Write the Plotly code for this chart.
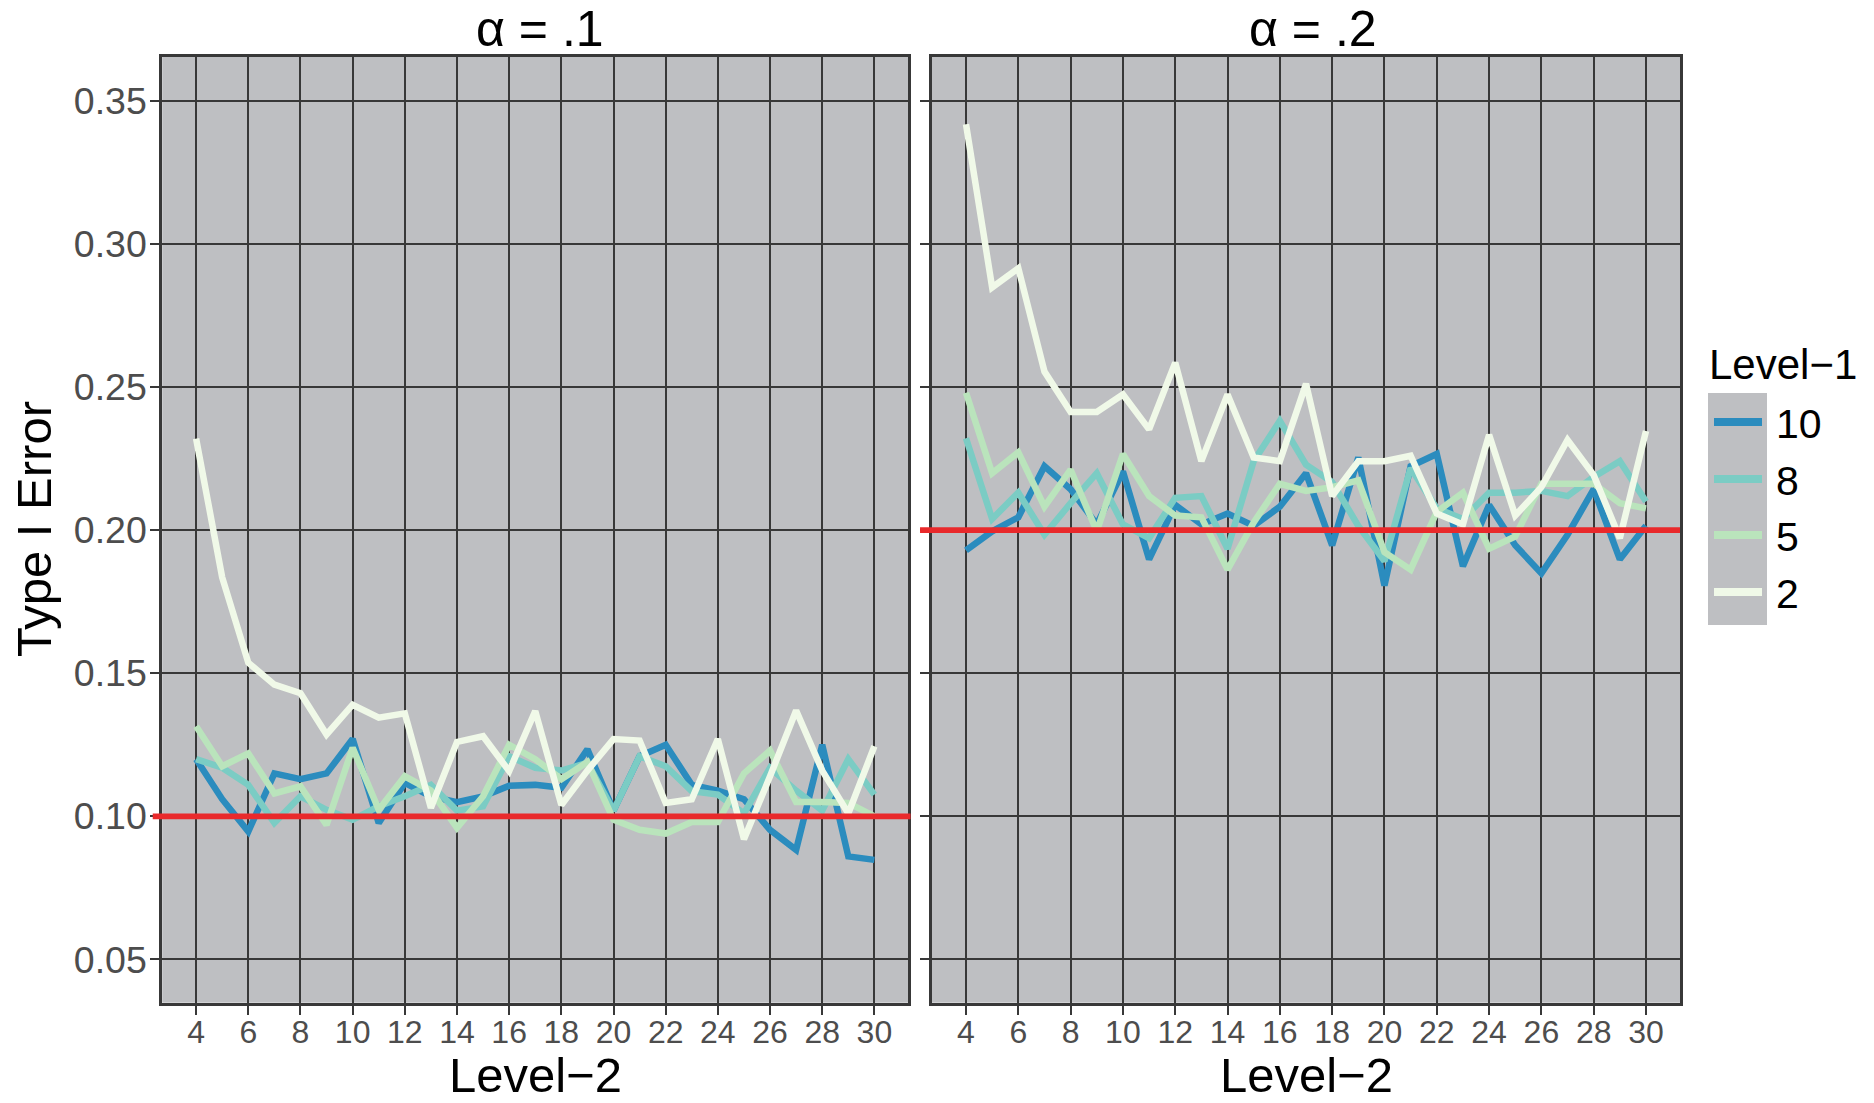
import plotly.graph_objects as go

level2 = list(range(4, 31))
level1_labels = ["10", "8", "5", "2"]
colors = ["#2b8cbe", "#7bccc4", "#bae4bc", "#f0f9e8"]

# alpha = .1 panel
a1_10 = [0.120, 0.106, 0.0947, 0.115, 0.113, 0.115, 0.127, 0.0977, 0.1117, 0.107, 0.105, 0.107, 0.1107, 0.111,
         0.110, 0.1234, 0.102, 0.121, 0.125, 0.111, 0.109, 0.106, 0.0953, 0.0883, 0.125, 0.086, 0.0848]
a1_8 = [0.120, 0.117, 0.111, 0.0977, 0.107, 0.1023, 0.0988, 0.1035, 0.107, 0.111, 0.102, 0.1035, 0.121, 0.117,
        0.116, 0.1187, 0.102, 0.121, 0.1175, 0.1088, 0.1076, 0.101, 0.117, 0.109, 0.102, 0.120, 0.1076]
a1_5 = [0.1315, 0.1175, 0.122, 0.108, 0.1105, 0.097, 0.124, 0.1023, 0.114, 0.109, 0.096, 0.107, 0.125, 0.120,
        0.113, 0.119, 0.0988, 0.0953, 0.094, 0.098, 0.098, 0.115, 0.123, 0.105, 0.105, 0.1047, 0.100]
a1_2 = [0.232, 0.1835, 0.1537, 0.146, 0.143, 0.1286, 0.139, 0.1345, 0.136, 0.103, 0.126, 0.128, 0.1158, 0.1368,
        0.104, 0.116, 0.127, 0.1265, 0.1047, 0.106, 0.127, 0.092, 0.114, 0.137, 0.116, 0.101, 0.1245]

# alpha = .2 panel
a2_10 = [0.1929, 0.1996, 0.2045, 0.2223, 0.2143, 0.202, 0.2205, 0.1898, 0.2088, 0.202, 0.2058, 0.2015, 0.2082,
         0.2199, 0.1947, 0.2254, 0.1806, 0.2223, 0.2266, 0.1874, 0.2088, 0.1947, 0.1849, 0.1984, 0.2143, 0.1898, 0.2015]
a2_8 = [0.2321, 0.2039, 0.2131, 0.1984, 0.2094, 0.2199, 0.202, 0.1972, 0.2113, 0.2119, 0.1935, 0.2241, 0.2382,
        0.2229, 0.2168, 0.2015, 0.1892, 0.2217, 0.2076, 0.2039, 0.2131, 0.2131, 0.2137, 0.2119, 0.2186, 0.2241, 0.210]
a2_5 = [0.248, 0.2199, 0.2272, 0.2082, 0.2211, 0.1996, 0.2266, 0.2119, 0.2051, 0.2045, 0.1862, 0.2027, 0.2162,
        0.2137, 0.215, 0.2174, 0.1923, 0.1862, 0.2064, 0.2131, 0.1935, 0.1978, 0.2162, 0.2162, 0.2162, 0.2094, 0.2076]
a2_2 = [0.3418, 0.2848, 0.2915, 0.2554, 0.2413, 0.2413, 0.2474, 0.2352, 0.2585, 0.2241, 0.2474, 0.2254, 0.2241,
        0.2511, 0.2119, 0.2241, 0.2241, 0.226, 0.2058, 0.202, 0.2333, 0.2051, 0.215, 0.2315, 0.2192, 0.1972, 0.2346]

alphas = [0.1, 0.2]
panel_titles = ["α = .1", "α = .2"]
x_ticks = list(range(4, 31, 2))
y_ticks = [0.05, 0.10, 0.15, 0.20, 0.25, 0.30, 0.35]

panels = [[a1_10, a1_8, a1_5, a1_2], [a2_10, a2_8, a2_5, a2_2]]

W, H = 1874, 1103
FONT = "Liberation Sans, Arial, sans-serif"
PANEL_BG = "#bebfc2"
DARK = "#383838"

fig = go.Figure()
for p, series in enumerate(panels):
    xa = "x" if p == 0 else "x2"
    ya = "y" if p == 0 else "y2"
    for s, vals in enumerate(series):
        fig.add_trace(go.Scatter(
            x=level2, y=vals, mode="lines", xaxis=xa, yaxis=ya,
            line=dict(color=colors[s], width=6.5),
            name=level1_labels[s], showlegend=False))


def px_x(v):
    return v / W


def px_y(v):
    return 1 - v / H


dom1 = [px_x(162.2), px_x(908.3)]
dom2 = [px_x(932), px_x(1680)]
ydom = [px_y(1002.7), px_y(56.7)]

xr = [2.7, 31.3]
yr = [0.0349, 0.3654]

axis_common = dict(
    showgrid=True, gridcolor=DARK, gridwidth=1.8, zeroline=False,
    showline=True, linecolor=DARK, linewidth=2.7, mirror=True,
    ticks="outside", ticklen=9, tickwidth=2.2, tickcolor=DARK,
)
xfont = dict(family=FONT, size=32, color="#4d4d4d")
yfont = dict(family=FONT, size=37.5, color="#4d4d4d")

fig.update_layout(
    width=W, height=H,
    margin=dict(l=0, r=0, t=0, b=0),
    paper_bgcolor="white", plot_bgcolor=PANEL_BG,
    font=dict(family=FONT),
    xaxis=dict(domain=dom1, range=xr, tickvals=x_ticks, anchor="y", tickfont=xfont,
               ticklabelstandoff=-10, **axis_common),
    xaxis2=dict(domain=dom2, range=xr, tickvals=x_ticks, anchor="y2", tickfont=xfont,
                ticklabelstandoff=-10, **axis_common),
    yaxis=dict(domain=ydom, range=yr, tickvals=y_ticks, ticktext=[f"{v:.2f}" for v in y_ticks],
               anchor="x", tickfont=yfont, ticklabelstandoff=-4, **axis_common),
    yaxis2=dict(domain=ydom, range=yr, tickvals=y_ticks, showticklabels=False, anchor="x2",
                tickfont=yfont, **axis_common),
    showlegend=False,
)

shapes = []
annotations = []
# reference lines at alpha
shapes.append(dict(type="line", xref="x domain", yref="y", x0=-0.0127, x1=1.003, y0=alphas[0], y1=alphas[0],
                   line=dict(color="#e9292b", width=5.7), layer="above"))
shapes.append(dict(type="line", xref="x2 domain", yref="y2", x0=-0.016, x1=1.0, y0=alphas[1], y1=alphas[1],
                   line=dict(color="#e9292b", width=5.7), layer="above"))

# panel titles and x-axis titles
title_cx = [540, 1313]
for i, dom in enumerate([dom1, dom2]):
    annotations.append(dict(text=panel_titles[i], x=px_x(title_cx[i]), y=px_y(29), xref="paper", yref="paper",
                            showarrow=False, xanchor="center", yanchor="middle",
                            font=dict(family=FONT, size=50, color="black")))
    annotations.append(dict(text="Level−2", x=(dom[0] + dom[1]) / 2, y=0, xref="paper", yref="paper",
                            showarrow=False, xanchor="center", yanchor="bottom", borderpad=0,
                            font=dict(family=FONT, size=49, color="black")))

annotations.append(dict(text="Type I Error", x=px_x(34), y=px_y(529), xref="paper", yref="paper",
                        showarrow=False, xanchor="center", yanchor="middle", textangle=-90,
                        font=dict(family=FONT, size=49, color="black")))

# legend (manual)
annotations.append(dict(text="Level−1", x=px_x(1707), y=px_y(364), xref="paper", yref="paper",
                        showarrow=False, xanchor="left", yanchor="middle",
                        font=dict(family=FONT, size=42, color="black")))
shapes.append(dict(type="rect", xref="paper", yref="paper", x0=px_x(1708), x1=px_x(1767),
                   y0=px_y(625), y1=px_y(393), fillcolor=PANEL_BG, line=dict(width=0), layer="above"))
key_y = [422, 479, 535, 592]
for i, lab in enumerate(level1_labels):
    shapes.append(dict(type="line", xref="paper", yref="paper", x0=px_x(1714), x1=px_x(1762),
                       y0=px_y(key_y[i]), y1=px_y(key_y[i]), line=dict(color=colors[i], width=8), layer="above"))
    annotations.append(dict(text=lab, x=px_x(1774), y=px_y(key_y[i] + 2), xref="paper", yref="paper",
                            showarrow=False, xanchor="left", yanchor="middle",
                            font=dict(family=FONT, size=41, color="black")))

fig.update_layout(shapes=shapes, annotations=annotations)
fig.write_html("out.html", config={"displayModeBar": False})

# remove the default page margin so the figure sits at the window's top-left corner
with open("out.html", "r", encoding="utf-8") as f:
    html = f.read()
html = html.replace("<head>", "<head><style>html,body{margin:0;padding:0;overflow:hidden;}</style>", 1)
with open("out.html", "w", encoding="utf-8") as f:
    f.write(html)
